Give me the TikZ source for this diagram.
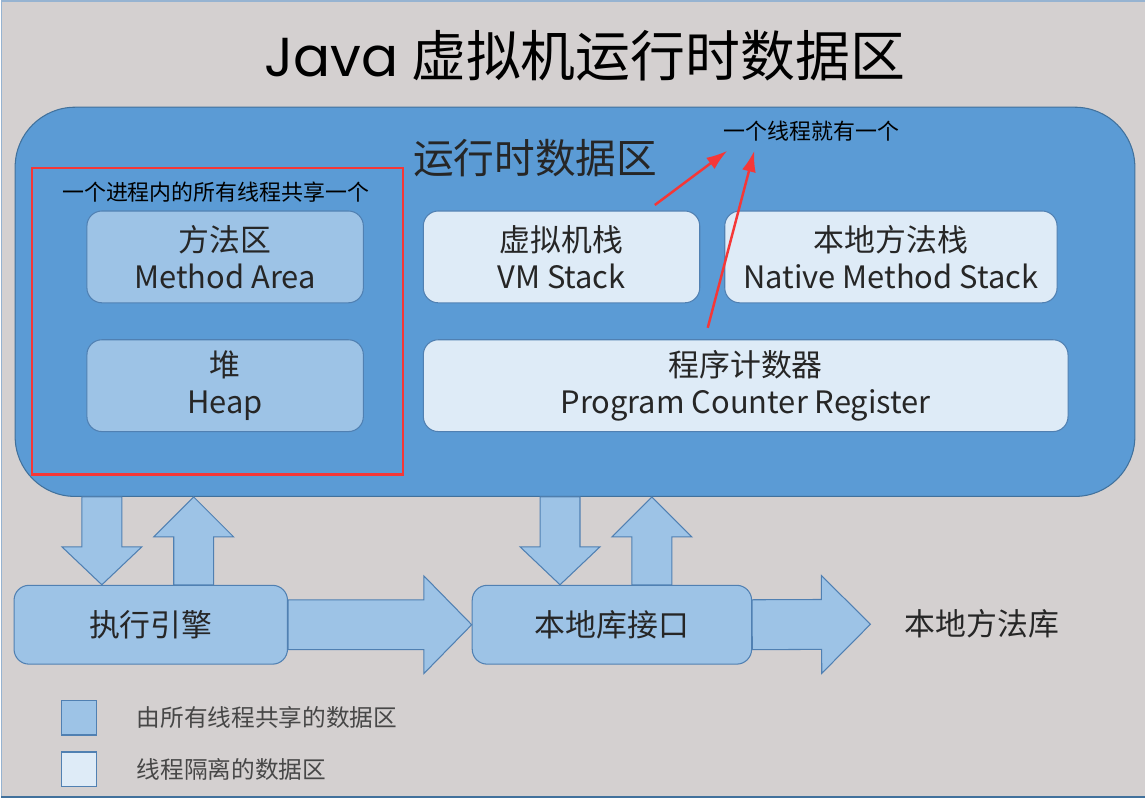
\documentclass[tikz,border=0pt]{standalone}
\usepackage{fontspec}
\newfontfamily\cjk{Noto Sans CJK SC}
\newfontfamily\geo{Poppins}
\usetikzlibrary{calc}
\usetikzlibrary{positioning}
\usetikzlibrary{arrows.meta}

\definecolor{bggray}{RGB}{212,208,208}
\definecolor{rtblue}{RGB}{91,155,213}
\definecolor{rtline}{RGB}{65,113,156}
\definecolor{sharedblue}{RGB}{157,195,230}
\definecolor{threadblue}{RGB}{222,235,247}
\definecolor{boxline}{RGB}{80,128,178}
\definecolor{markred}{RGB}{245,55,55}
\definecolor{inktext}{RGB}{38,38,38}

\providecommand\fsz[2]{\fontsize{#1}{#2}\selectfont}

% tail, tip, shaft half width, head half width, head length
\providecommand\blockarrow[5]{%
  \coordinate (ba-h) at ($(#2)!#5!(#1)$);
  \draw[blockarr] ($(#1)!#3!90:(#2)$) -- ($(ba-h)!#3!90:(#2)$) -- ($(ba-h)!#4!90:(#2)$) -- (#2)
    -- ($(ba-h)!#4!-90:(#2)$) -- ($(ba-h)!#3!-90:(#2)$) -- ($(#1)!#3!-90:(#2)$) -- cycle;
}

\tikzset{
  shared/.style = {draw = boxline, fill = sharedblue, rounded corners = 0.3cm, minimum width = 5.54cm,
                   minimum height = 1.84cm, align = center, text = inktext, font = \cjk\fsz{17.6}{21}},
  private/.style = {shared, fill = threadblue},
  blockarr/.style = {draw = boxline, fill = sharedblue, line join = miter},
  note/.style = {inner sep = 0, text = black, font = \cjk\fsz{12.5}{15}},
  redarrow/.style = {draw = markred, line width = 1.4pt, -{Latex[length = 12pt, width = 8pt]}},
}

\begin{document}
\begin{tikzpicture}[x = 0.02cm, y = -0.02cm, font = \cjk, line width = 0.6pt]

    \fill[bggray] (0,0) rectangle (1146,799);
    \draw[boxline!60, line width = 1pt] (1146,0.5) -- (0.5,0.5) -- (0.5,798);
    \draw[rtline, line width = 1.2pt] (0,798) -- (1146,798);
    \useasboundingbox (0,0) rectangle (1146,799);

    \node (title) at (585,55) [text = black, font = \cjk\fsz{31.3}{36}] {{\geo Java} 虚拟机运行时数据区};

    % runtime data area
    \node (rt) at (575,302) [draw = rtline, fill = rtblue, rounded corners = 1.2cm,
                             minimum width = 22.44cm, minimum height = 7.8cm] {};
    \node (rtlabel) at (535,158) [text = inktext, font = \cjk\fsz{23.2}{28}] {运行时数据区};

    \node (procbox) at (217,321.5) [draw = markred, line width = 1.2pt, minimum width = 7.44cm, minimum height = 6.14cm] {};
    \node (sharednote) at (215,192) [note] {一个进程内的所有线程共享一个};

    \node (method) at (224.5,257) [shared] {方法区\\Method Area};
    \node (heap) at (224.5,386) [shared] {堆\\Heap};
    \node (vmstack) at (561.5,257) [private] {虚拟机栈\\VM Stack};
    \node (native) at (891.5,257) [private, minimum width = 6.66cm] {本地方法栈\\Native Method Stack};
    \node (pc) at (746,386) [private, minimum width = 12.92cm] {程序计数器\\Program Counter Register};

    \node (threadnote) at (812,131) [note] {一个线程就有一个};
    \coordinate (vmmark) at (655,205);
    \coordinate (pcmark) at (708,328);
    \draw[redarrow] (vmmark) -- ([shift = {(4,9)}]threadnote.south west);
    \draw[redarrow] (pcmark) -- ([shift = {(31,9)}]threadnote.south west);

    % engine and native interface
    \node (exec) at (150,625.5) [shared, minimum width = 5.48cm, minimum height = 1.58cm] {执行引擎};
    \node (lib) at (612,625.5) [shared, minimum width = 5.6cm, minimum height = 1.58cm] {本地库接口};
    \coordinate (libtip) at (871,625);
    \node (natlib) [right = 0.68cm of libtip, inner sep = 0, text = inktext, font = \cjk\fsz{17.6}{21}] {本地方法库};

    \coordinate (dn1) at (101,0);
    \coordinate (up1) at (193,0);
    \coordinate (dn2) at (560,0);
    \coordinate (up2) at (652,0);

    \blockarrow{dn1 |- rt.south}{dn1 |- exec.north}{0.4cm}{0.8cm}{0.76cm}
    \blockarrow{up1 |- exec.north}{up1 |- rt.south}{0.4cm}{0.8cm}{0.8cm}
    \blockarrow{dn2 |- rt.south}{dn2 |- lib.north}{0.4cm}{0.8cm}{0.76cm}
    \blockarrow{up2 |- lib.north}{up2 |- rt.south}{0.4cm}{0.8cm}{0.8cm}
    \blockarrow{exec.east}{lib.west}{0.5cm}{0.98cm}{0.96cm}
    \blockarrow{lib.east}{libtip}{0.5cm}{0.98cm}{0.98cm}

    % legend
    \node (keyshared) at (78.5,718.5) [draw = boxline, fill = sharedblue, minimum size = 0.7cm, inner sep = 0] {};
    \node (keythread) at (78.5,770.5) [draw = boxline, fill = threadblue, minimum size = 0.7cm, inner sep = 0] {};
    \node (keysharedtext) [right = 0.78cm of keyshared, inner sep = 0, text = inktext!85, font = \cjk\fsz{13.5}{16}] {由所有线程共享的数据区};
    \node (keythreadtext) [right = 0.78cm of keythread, inner sep = 0, text = inktext!85, font = \cjk\fsz{13.5}{16}] {线程隔离的数据区};

\end{tikzpicture}
\end{document}
